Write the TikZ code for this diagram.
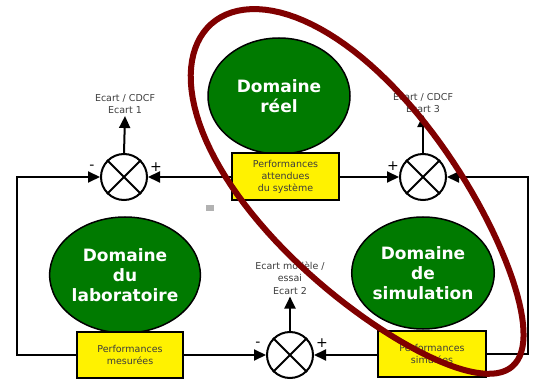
\documentclass[tikz,border=0pt]{standalone}
\usepackage{fontspec}
\setmainfont{DejaVu Sans}
\usetikzlibrary{arrows.meta,shapes.geometric,positioning}
\definecolor{domgreen}{RGB}{0,122,0}
\definecolor{loopred}{RGB}{128,0,0}
\definecolor{txtgray}{RGB}{60,60,60}
\tikzset{
    domaine/.style={ellipse, draw, line width=1.5pt, fill=domgreen, text=white,
        font=\bfseries\fontsize{17}{20}\selectfont, align=center,
        minimum width=142pt, minimum height=116pt, inner sep=0pt},
    perf/.style={rectangle, draw, line width=2pt, fill=yellow, text=txtgray,
        font=\fontsize{9.5}{12}\selectfont, align=center,
        minimum width=106pt, minimum height=46pt, inner sep=0pt},
    comparateur/.style={circle, draw, line width=2pt, fill=white,
        minimum size=46pt, inner sep=0pt},
    ecart/.style={font=\fontsize{9.5}{12.5}\selectfont, align=center, text=txtgray, inner sep=2pt},
    signe/.style={font=\fontsize{14}{14}\selectfont, inner sep=0pt},
    fleche/.style={line width=2pt, -{Triangle[length=12pt,width=11pt]}}
}
\begin{document}
\begin{tikzpicture}[x=1pt, y=-1pt]
    \useasboundingbox (0,0) rectangle (533,382);
    % domaines
    \node[domaine] (reel) at (279,96) {Domaine\\réel};
    \node[domaine] (labo) at (125,275) {Domaine\\du\\laboratoire};
    \node[domaine, minimum width=139pt, minimum height=112pt] (simu) at (423,273) {Domaine\\de\\simulation};
    % performances
    \node[perf, minimum width=107pt, minimum height=47pt] (attendues) at (285.5,177) {Performances\\attendues\\du système};
    \node[perf] (mesurees) at (130,355) {Performances\\mesurées};
    \node[perf, minimum width=108pt] (simulees) at (432,354) {Performances\\simulées};
    % comparateurs
    \node[comparateur] (c1) at (124,177) {};
    \node[comparateur] (c2) at (290,355) {};
    \node[comparateur] (c3) at (423,177) {};
    \foreach \c in {c1,c2,c3}
        \draw[line width=2pt] (\c.45) -- (\c.225) (\c.135) -- (\c.315);
    % ecarts
    \node[ecart] (e1) at (125,104) {Ecart / CDCF\\Ecart 1};
    \node[ecart] (e3) at (423,103) {Ecart / CDCF\\Ecart 3};
    \node[ecart] (e2) at (290,278) {Ecart modèle /\\essai\\Ecart 2};
    \draw[fleche] (c1.north) -- (e1.south);
    \draw[fleche] (c3.north) -- (e3.south);
    \draw[fleche] (c2.north) -- (e2.south);
    % signes
    \node[signe] (s1m) at (92,167) {-};
    \node[signe] (s1p) at (156,167) {+};
    \node[signe] (s3p) at (393,166) {+};
    \node[signe] (s3m) at (453,166) {-};
    \node[signe] (s2m) at (258,344) {-};
    \node[signe] (s2p) at (322,343) {+};
    % liaisons
    \coordinate (bordG) at (17,177);
    \coordinate (bordD) at (528,177);
    \draw[fleche] (attendues) -- (c1);
    \draw[fleche] (attendues) -- (c3);
    \draw[fleche] (mesurees) -- (c2);
    \draw[fleche] (simulees.west |- c2) -- (c2);
    \draw[fleche] (mesurees.west) -| (bordG) -- (c1);
    \draw[fleche] (simulees.east) -| (bordD) -- (c3);
    % petite icone
    \fill[gray!60] (206,205) rectangle (214,211);
    % contour rouge (ovale un peu en oeuf)
    \draw[loopred, line width=6pt, line join=round, shift={(362,195)}, rotate=-48.7]
        plot[domain=0:360, samples=121, variable=\t]
            ({228*cos(\t)}, {94*sin(\t)*(1-0.18*cos(\t))}) -- cycle;
\end{tikzpicture}
\end{document}
